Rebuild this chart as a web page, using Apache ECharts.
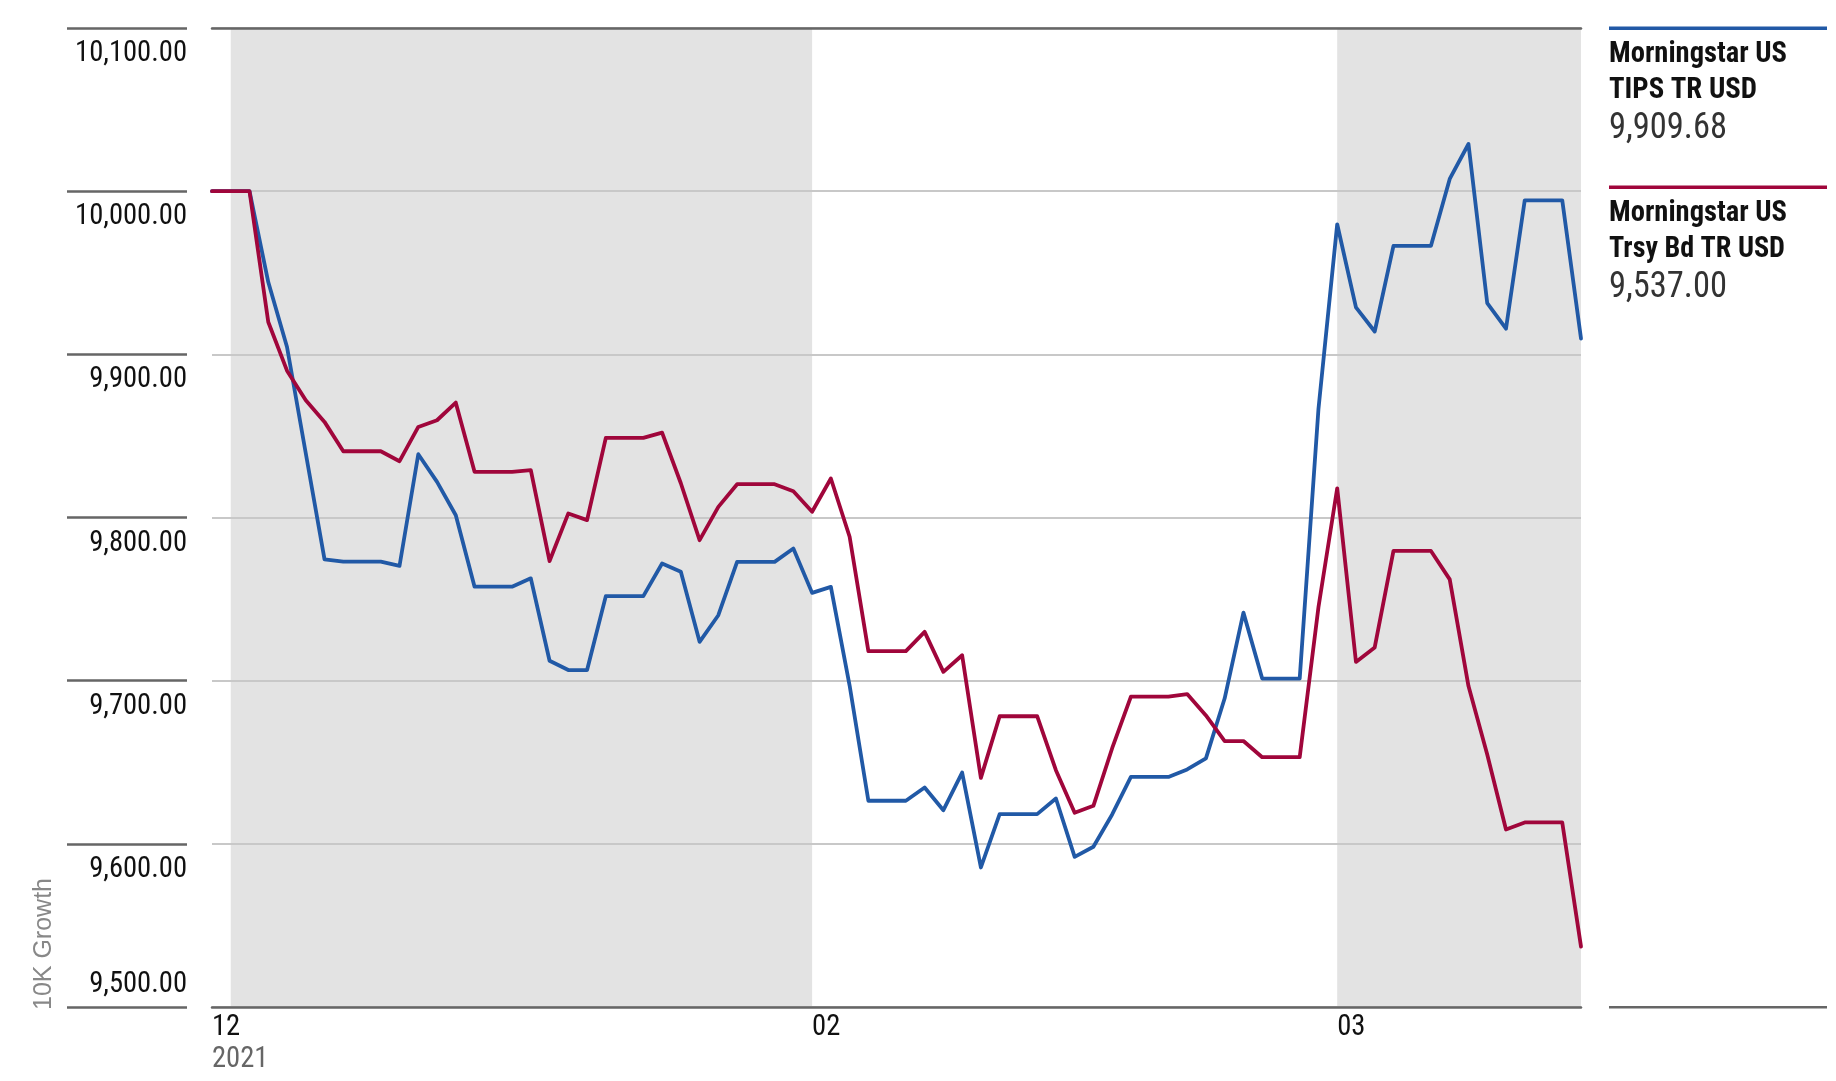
<!DOCTYPE html>
<html>
<head>
    <meta charset="utf-8">
    <title>10K Growth</title>
    <script src="https://cdn.jsdelivr.net/npm/echarts@6/dist/echarts.min.js"></script>
    <style type="text/css">
        html, body { margin: 0; padding: 0; background: #fff; }
        #main { width: 1836px; height: 1081px; }
    </style>
</head>
<body>
    <div id="main"></div>
    <script type="text/javascript">
        // daily points, 2021-12-31 .. 2022-03-14
        var startDate = '2021-12-31';
        var dayCount = 74;

        var tipsName = 'Morningstar US TIPS TR USD';
        var tipsValues = [
            10000, 10000, 10000, 9944.3, 9904.5, 9839.4, 9774.3, 9772.9, 9772.9, 9772.9,
            9770.4, 9838.8, 9821.8, 9801.4, 9757.6, 9757.6, 9757.6, 9762.7, 9712.2, 9706.5,
            9706.5, 9751.8, 9751.8, 9751.8, 9771.8, 9766.7, 9723.8, 9740.1, 9772.8, 9772.8,
            9772.8, 9781.0, 9753.8, 9757.5, 9697.0, 9626.4, 9626.4, 9626.4, 9634.5, 9620.6,
            9643.7, 9585.5, 9618.2, 9618.2, 9618.2, 9627.8, 9592.0, 9598.2, 9618.0, 9641.0,
            9641.0, 9641.0, 9645.6, 9652.4, 9689.2, 9741.7, 9701.3, 9701.3, 9701.3, 9866.4,
            9979.7, 9928.8, 9914.0, 9966.5, 9966.5, 9966.5, 10007.5, 10028.9, 9931.4, 9915.7,
            9994.4, 9994.4, 9994.4, 9909.68
        ];

        var trsyName = 'Morningstar US Trsy Bd TR USD';
        var trsyValues = [
            10000, 10000, 10000, 9919.8, 9890.0, 9871.8, 9858.6, 9840.6, 9840.6, 9840.6,
            9834.5, 9855.5, 9859.6, 9870.4, 9828.0, 9828.0, 9828.0, 9829.0, 9773.3, 9802.5,
            9798.4, 9848.8, 9848.8, 9848.8, 9852.0, 9821.0, 9786.1, 9806.5, 9820.4, 9820.4,
            9820.4, 9816.1, 9803.5, 9823.9, 9788.2, 9718.1, 9718.1, 9718.1, 9729.9, 9705.4,
            9715.6, 9640.4, 9678.2, 9678.2, 9678.2, 9645.1, 9619.0, 9623.3, 9658.6, 9690.2,
            9690.2, 9690.2, 9691.8, 9678.7, 9663.0, 9663.0, 9653.1, 9653.1, 9653.1, 9745.0,
            9817.9, 9711.5, 9720.4, 9779.5, 9779.5, 9779.5, 9762.1, 9696.7, 9654.7, 9608.8,
            9613.1, 9613.1, 9613.1, 9537.00
        ];

        // month labels on the x axis
        var monthTicks = { '2021-12-31': '12', '2022-02-01': '02', '2022-03-01': '03' };
        var yearTick = '2021';
        // shaded months
        var shadedMonths = [['2022-01-01', '2022-02-01'], ['2022-03-01', '2022-03-14']];
        var yTicks = [9500, 9600, 9700, 9800, 9900, 10000, 10100];

        var blue = '#2159a6';
        var red = '#a0063b';

        // pick the narrowest condensed face that is installed
        var measureCtx = document.createElement('canvas').getContext('2d');
        function textWidth(font, s) { measureCtx.font = font; return measureCtx.measureText(s).width; }
        function pickFont() {
            var list = ["'Liberation Sans Narrow'", "'Noto Sans ExtraCondensed'", "'Noto Sans Condensed'",
                        "'Roboto Condensed'", "'DejaVu Sans Condensed'"];
            var probe = 'Morningstar 10,100.00';
            var base = textWidth('30px monospace', probe);
            for (var i = 0; i < list.length; i++) {
                if (Math.abs(textWidth('30px ' + list[i] + ', monospace', probe) - base) > 0.5) return list[i];
            }
            return 'sans-serif';
        }
        var narrow = pickFont() + ', sans-serif';

        function fitSize(text, target, maxSize, minSize) {
            var s = 30 * target / textWidth('30px ' + narrow, text);
            return Math.max(minSize, Math.min(maxSize, s));
        }
        var labelSize = fitSize('10,100.00', 112, 32, 25);

        var dates = [];
        var d0 = new Date(startDate + 'T00:00:00Z');
        for (var i = 0; i < dayCount; i++) {
            var d = new Date(d0.getTime() + i * 86400000);
            dates.push(d.toISOString().slice(0, 10));
        }

        function fmt(v) {
            return v.toLocaleString('en-US', { minimumFractionDigits: 2, maximumFractionDigits: 2 });
        }

        // text squeezed to the width it has in the picture
        function fitText(str, font, y, width, color) {
            var w = textWidth(font, str);
            return { type: 'text', x: 1609, y: y, scaleX: width / w,
                     style: { text: str, font: font, fill: color, verticalAlign: 'middle' } };
        }

        function legendBlock(top, color, line1, line2, value, w2) {
            var bold = 'bold 30px ' + narrow;
            return [
                { type: 'rect', left: 1609, top: top - 1.5, shape: { width: 218, height: 3.5 }, style: { fill: color } },
                fitText(line1, bold, top + 26, 178, '#111'),
                fitText(line2, bold, top + 62, w2, '#111'),
                fitText(value, '36px ' + narrow, top + 101, 118, '#333')
            ];
        }

        var chart = echarts.init(document.getElementById('main'));

        var option = {
            backgroundColor: '#fff',
            animation: false,
            grid: { left: 212, right: 255, top: 28, bottom: 74, containLabel: false },
            xAxis: [{
                type: 'category',
                data: dates,
                boundaryGap: false,
                z: 3,
                axisLine: { show: true, lineStyle: { color: '#666', width: 2.5 } },
                axisTick: { show: false },
                splitLine: { show: false },
                minorTick: { show: false },
                axisLabel: {
                    interval: function (idx, val) { return monthTicks[val] !== undefined; },
                    align: 'left',
                    verticalAlign: 'top',
                    margin: 5,
                    formatter: function (val, idx) {
                        if (idx === 0) return '{m|' + monthTicks[val] + '}\n{y|' + yearTick + '}';
                        return '{m|' + monthTicks[val] + '}';
                    },
                    rich: {
                        m: { fontFamily: narrow, fontSize: labelSize, color: '#111', lineHeight: 32 },
                        y: { fontFamily: narrow, fontSize: labelSize, color: '#666', lineHeight: 32 }
                    }
                }
            }, {
                type: 'category',
                data: dates,
                position: 'top',
                boundaryGap: false,
                z: 3,
                axisLine: { show: true, lineStyle: { color: '#666', width: 2.5 } },
                axisTick: { show: false },
                splitLine: { show: false },
                axisLabel: { show: false }
            }],
            yAxis: {
                type: 'value',
                min: 9500,
                max: 10100,
                interval: 100,
                offset: 25,
                z: 2,
                axisLine: { show: false },
                axisTick: { show: true, length: 120, lineStyle: { color: '#666', width: 2.5 } },
                splitLine: { show: true, lineStyle: { color: '#c8c8c8', width: 2 } },
                axisLabel: {
                    showMinLabel: true,
                    showMaxLabel: true,
                    margin: 0,
                    formatter: function (v) {
                        return v === yTicks[0] ? '{up|' + fmt(v) + '}' : '{dn|' + fmt(v) + '}';
                    },
                    rich: {
                        dn: { fontFamily: narrow, fontSize: labelSize, color: '#111', padding: [52, 0, 0, 0] },
                        up: { fontFamily: narrow, fontSize: labelSize, color: '#111', padding: [0, 0, 44, 0] }
                    }
                }
            },
            series: [{
                name: 'months',
                type: 'line',
                data: [],
                z: 1,
                silent: true,
                markArea: {
                    silent: true,
                    itemStyle: { color: '#e3e3e3' },
                    data: shadedMonths.map(function (m) { return [{ xAxis: m[0] }, { xAxis: m[1] }]; })
                }
            }, {
                name: trsyName,
                type: 'line',
                data: trsyValues,
                z: 4,
                symbol: 'none',
                lineStyle: { color: red, width: 3.8, join: 'round', cap: 'round' }
            }, {
                name: tipsName,
                type: 'line',
                data: tipsValues,
                z: 3,
                symbol: 'none',
                lineStyle: { color: blue, width: 3.8, join: 'round', cap: 'round' }
            }],
            graphic: [
                { type: 'text', x: 44, y: 944, rotation: Math.PI / 2,
                  style: { text: '10K Growth', font: '25px "Liberation Sans", Arial, sans-serif', fill: '#888', align: 'center', verticalAlign: 'middle' } },
                { type: 'rect', left: 1609, top: 1006, shape: { width: 218, height: 2.5 }, style: { fill: '#666' } }
            ].concat(
                legendBlock(28, blue, 'Morningstar US', 'TIPS TR USD', fmt(tipsValues[tipsValues.length - 1]), 148),
                legendBlock(187, red, 'Morningstar US', 'Trsy Bd TR USD', fmt(trsyValues[trsyValues.length - 1]), 176)
            )
        };
        chart.setOption(option);
    </script>
</body>
</html>
